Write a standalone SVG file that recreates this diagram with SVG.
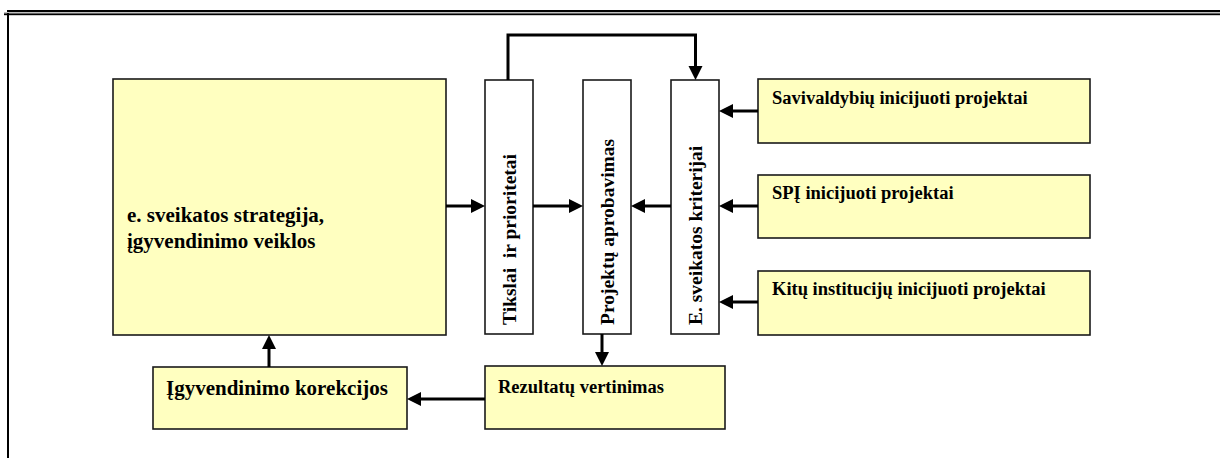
<svg xmlns="http://www.w3.org/2000/svg" width="1220" height="459" viewBox="0 0 1220 459">
  <style>
    .box { fill: #ffffc0; stroke: #1a1a1a; stroke-width: 1.6; }
    .vbox { fill: #ffffff; stroke: #1a1a1a; stroke-width: 1.6; }
    .lbl { font-family: "Liberation Serif", "Times New Roman", serif; font-weight: bold; fill: #000; }
    .edge { fill: none; stroke: #000; stroke-width: 3; marker-end: url(#head); }
  </style>
  <defs>
    <!-- filled arrowhead, tip sits 10px past the line end -->
    <marker id="head" markerUnits="userSpaceOnUse" markerWidth="15" markerHeight="15" refX="4" refY="7" orient="auto">
      <path d="M0,0 L14,7 L0,14 z" fill="#000"/>
    </marker>
  </defs>

  <rect width="1220" height="459" fill="#ffffff"/>

  <!-- page frame: double rule on top, single rule at left -->
  <g id="frame">
    <rect x="7" y="10" width="1213" height="2" fill="#000"/>
    <rect x="4" y="12.5" width="1216" height="1.2" fill="#808080"/>
    <rect x="4" y="13.6" width="1216" height="1.6" fill="#000"/>
    <rect x="7" y="13" width="2" height="445" fill="#000"/>
  </g>

  <g id="strategy">
    <rect class="box" x="113" y="79" width="333" height="256"/>
    <text class="lbl" font-size="21" x="127" y="222">e. sveikatos strategija,</text>
    <text class="lbl" font-size="21" x="127" y="248">įgyvendinimo veiklos</text>
  </g>

  <g id="goals">
    <rect class="vbox" x="485" y="80" width="48" height="254"/>
    <text class="lbl" font-size="19.5" transform="translate(516,325) rotate(-90)" xml:space="preserve">Tikslai  ir prioritetai</text>
  </g>

  <g id="approval">
    <rect class="vbox" x="583" y="80" width="48" height="254"/>
    <text class="lbl" font-size="19.5" transform="translate(614,325) rotate(-90)">Projektų aprobavimas</text>
  </g>

  <g id="criteria">
    <rect class="vbox" x="671" y="80" width="48" height="254"/>
    <text class="lbl" font-size="19.5" transform="translate(702,325) rotate(-90)">E. sveikatos kriterijai</text>
  </g>

  <g id="municipal">
    <rect class="box" x="758" y="79" width="332" height="64"/>
    <text class="lbl" font-size="18.5" x="772" y="104">Savivaldybių inicijuoti projektai</text>
  </g>

  <g id="spi">
    <rect class="box" x="758" y="175" width="332" height="63"/>
    <text class="lbl" font-size="18.5" x="772" y="199">SPĮ inicijuoti projektai</text>
  </g>

  <g id="others">
    <rect class="box" x="758" y="271" width="332" height="64"/>
    <text class="lbl" font-size="18.5" x="772" y="295">Kitų institucijų inicijuoti projektai</text>
  </g>

  <g id="corrections">
    <rect class="box" x="153" y="367" width="254" height="62"/>
    <text class="lbl" font-size="21" x="166" y="395">Įgyvendinimo korekcijos</text>
  </g>

  <g id="evaluation">
    <rect class="box" x="485" y="366" width="240" height="63"/>
    <text class="lbl" font-size="18.5" x="498" y="393">Rezultatų vertinimas</text>
  </g>

  <g id="connectors">
    <path class="edge" d="M446,206 H475"/>
    <path class="edge" d="M533,206 H573"/>
    <path class="edge" d="M671,206 H641"/>
    <path class="edge" d="M508,80 V35 H695.5 V70"/>
    <path class="edge" d="M758,111 H729"/>
    <path class="edge" d="M758,206 H729"/>
    <path class="edge" d="M758,302 H729"/>
    <path class="edge" d="M602,334 V356"/>
    <path class="edge" d="M485,399 H417"/>
    <path class="edge" d="M269,367 V345"/>
  </g>
</svg>
